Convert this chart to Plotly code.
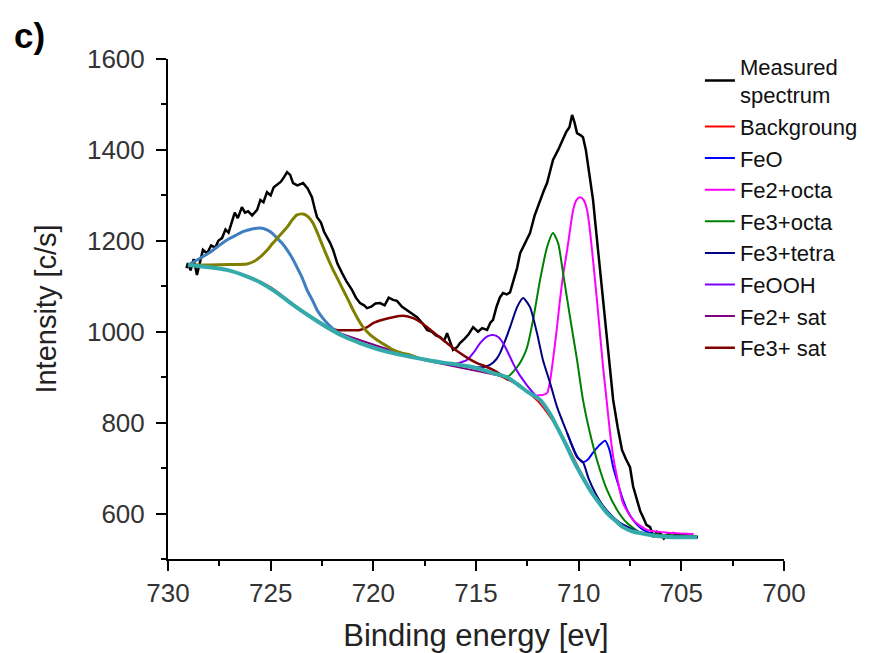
import plotly.graph_objects as go

# ---------------- data ----------------
meas_E = [729.10, 729.03, 728.90, 728.75, 728.59, 728.45, 728.30, 728.10, 727.90, 727.70,
          727.55, 727.37, 727.20, 727.05, 726.88, 726.75, 726.60, 726.40, 726.25, 726.10,
          725.90, 725.66, 725.50, 725.35, 725.18, 725.00, 724.85, 724.69, 724.50, 724.35,
          724.20, 724.05, 723.91, 723.70, 723.42, 723.20, 722.99, 722.85, 722.74, 722.55,
          722.40, 722.26, 722.10, 721.96, 721.75, 721.52, 721.30, 721.04, 720.85, 720.65,
          720.45, 720.31, 720.10, 719.90, 719.67, 719.45, 719.25, 719.04, 718.85, 718.60,
          718.36, 718.10, 717.87, 717.60, 717.38, 717.15, 716.95, 716.75, 716.55, 716.41,
          716.25, 716.12, 715.92, 715.78, 715.55, 715.35, 715.14, 714.90, 714.70, 714.46,
          714.30, 714.17, 714.00, 713.83, 713.68, 713.50, 713.34, 713.20, 713.00, 712.85,
          712.60, 712.37, 712.15, 711.88, 711.70, 711.54, 711.40, 711.25, 711.00, 710.76,
          710.60, 710.45, 710.32, 710.20, 710.08, 709.90, 709.79, 709.65, 709.54, 709.42,
          709.30, 709.18, 709.06, 708.95, 708.81, 708.70, 708.57, 708.45, 708.32, 708.10,
          707.89, 707.70, 707.50, 707.35, 707.16, 707.00, 706.86, 706.70, 706.52, 706.35,
          706.20, 706.04, 705.85, 705.65, 705.40, 705.10, 704.85, 704.55, 704.23]
meas_I = [1140, 1151, 1135, 1160, 1125, 1150, 1180, 1172, 1190, 1185,
          1200, 1206, 1225, 1218, 1241, 1262, 1250, 1274, 1262, 1265,
          1256, 1268, 1290, 1285, 1307, 1300, 1318, 1323, 1330, 1340,
          1351, 1345, 1327, 1322, 1327, 1315, 1296, 1270, 1252, 1240,
          1220, 1208, 1195, 1180, 1150, 1129, 1110, 1092, 1075, 1063,
          1058, 1052, 1055, 1062, 1063, 1058, 1075, 1070, 1068, 1055,
          1048, 1040, 1032, 1018, 1004, 1000, 992, 988, 980, 997,
          975, 960, 966, 975, 985, 995, 1010, 1000, 1008, 1004,
          1020, 1026, 1055, 1076, 1085, 1082, 1087, 1107, 1140, 1173,
          1195, 1217, 1255, 1290, 1310, 1327, 1350, 1378, 1400, 1422,
          1440, 1450, 1477, 1460, 1437, 1432, 1428, 1400, 1362, 1330,
          1290, 1235, 1180, 1125, 1070, 1015, 960, 905, 850, 790,
          740, 720, 702, 660, 630, 605, 592, 575, 570, 548,
          560, 557, 545, 555, 557, 552, 555, 550, 548]

bg_E = [729.0, 728.0, 727.0, 726.0, 725.0, 724.0, 723.0, 722.0, 721.0, 720.0,
        719.0, 718.0, 717.0, 716.0, 715.0, 714.5, 714.0, 713.5, 713.0, 712.5,
        712.0, 711.5, 711.0, 710.5, 710.0, 709.5, 709.0, 708.5, 708.0, 707.5,
        707.0, 706.0, 705.0, 704.2]
bg_I = [1147, 1142, 1134, 1120, 1098, 1064, 1030, 1002, 982, 966,
        953, 943, 935, 929, 920, 913, 905, 896, 884, 868,
        848, 820, 786, 745, 700, 657, 623, 598, 578, 565,
        557, 550, 548, 547]

feo_E = [710.56, 710.3, 710.05, 709.8, 709.55, 709.3, 709.0, 708.71, 708.5, 708.32,
         708.1, 707.84, 707.6, 707.35, 707.1, 706.86, 706.5, 706.0, 705.0, 704.2]
feo_I = [777, 748, 724, 713, 719, 734, 750, 760, 740, 702,
         668, 630, 604, 586, 573, 564, 557, 551, 549, 548]

fe2oct_E = [712.5, 712.22, 711.9, 711.54, 711.4, 711.25, 711.08, 710.91, 710.74, 710.56,
            710.4, 710.27, 710.1, 709.93, 709.76, 709.59, 709.47, 709.35, 709.23, 709.11,
            708.96, 708.81, 708.64, 708.47, 708.3, 708.13, 707.84, 707.35, 706.67, 705.4,
            704.4]
fe2oct_I = [870, 861, 860, 865, 890, 938, 1000, 1070, 1130, 1180,
            1230, 1268, 1290, 1296, 1290, 1268, 1230, 1180, 1125, 1070,
            995, 922, 850, 777, 720, 680, 623, 586, 564, 557,
            555]

fe3oct_E = [714.0, 713.49, 713.0, 712.75, 712.51, 712.22, 711.88, 711.54, 711.25, 711.0,
            710.76, 710.42, 710.08, 709.79, 709.45, 709.11, 708.62, 708.13, 707.64, 707.01,
            706.0, 705.0, 704.2]
fe3oct_I = [905, 900, 922, 940, 966, 1026, 1114, 1186, 1217, 1195,
            1129, 1032, 938, 850, 777, 718, 652, 608, 579, 559,
            553, 551, 550]

fe3tet_E = [715.5, 715.14, 714.7, 714.32, 714.0, 713.83, 713.6, 713.34, 713.0, 712.71,
            712.37, 712.03, 711.74, 711.39, 711.05, 710.56, 710.08, 709.79, 709.5, 709.0,
            708.5, 708.0, 707.0, 706.0, 704.2]
fe3tet_I = [924, 922, 922, 927, 940, 953, 978, 1010, 1054, 1074,
            1054, 997, 938, 887, 834, 777, 724, 713, 675, 630,
            600, 580, 558, 551, 548]

feooh_E = [716.0, 715.43, 715.1, 714.8, 714.45, 714.17, 713.9, 713.68, 713.45, 713.2,
           712.95, 712.71, 712.45, 712.22, 711.9, 711.6]
feooh_I = [929, 938, 955, 975, 990, 993, 988, 975, 955, 931,
           910, 894, 878, 866, 850, 830]

fe2sat_E = [722.0, 718.0, 714.0]
fe2sat_I = [1002, 943, 905]

fe3sat_E = [722.6, 722.3, 721.8, 721.2, 720.65, 720.3, 720.01, 719.5, 719.04, 718.55,
            718.06, 717.7, 717.38, 717.0, 716.6, 716.2, 715.78, 715.4, 714.95, 714.55,
            714.17, 713.8, 713.4]
fe3sat_I = [1021, 1010, 1004, 1003, 1004, 1010, 1019, 1027, 1032, 1035,
            1030, 1021, 1010, 996, 982, 967, 953, 942, 931, 924,
            916, 906, 893]

p12a_E = [729.0, 728.5, 727.95, 727.5, 727.13, 726.7, 726.35, 725.9, 725.52, 725.18,
          724.9, 724.69, 724.45, 724.2, 723.95, 723.72, 723.45, 723.23, 722.95, 722.74,
          722.5, 722.26, 722.0, 721.77, 721.5]
p12a_I = [1147, 1160, 1175, 1190, 1202, 1212, 1220, 1226, 1228, 1224,
          1216, 1206, 1195, 1180, 1162, 1142, 1117, 1092, 1068, 1048,
          1032, 1019, 1008, 1000, 993]

p12b_E = [729.0, 728.0, 727.0, 726.15, 725.8, 725.52, 725.2, 724.89, 724.55, 724.2,
          723.95, 723.72, 723.42, 723.18, 722.94, 722.7, 722.45, 722.2, 721.96, 721.7,
          721.47, 721.2, 720.99, 720.75, 720.5, 720.15, 719.82, 719.4, 719.04, 718.6,
          718.21, 717.8]
p12b_I = [1147, 1147, 1148, 1149, 1155, 1164, 1178, 1195, 1212, 1230,
          1246, 1257, 1259, 1253, 1239, 1215, 1187, 1160, 1136, 1113,
          1092, 1068, 1048, 1028, 1010, 993, 982, 970, 960, 953,
          949, 942]

env_E = [729.03, 728.0, 727.13, 726.3, 725.52, 724.7, 723.91, 723.1, 722.26, 721.5,
         720.65, 719.8, 719.04, 718.2, 717.38, 716.6, 715.78, 715.14, 714.5, 714.17,
         713.49, 713.0, 712.5, 711.88, 711.4, 711.05, 710.6, 710.27, 709.85, 709.45,
         709.0, 708.62, 708.2, 707.84, 707.4, 707.01, 706.3, 705.4, 704.23]
env_I = [1147, 1142, 1136, 1124, 1109, 1086, 1059, 1034, 1010, 991,
         975, 962, 953, 945, 938, 932, 927, 922, 914, 909,
         900, 885, 868, 850, 820, 790, 750, 718, 683, 652,
         623, 601, 584, 570, 561, 557, 551, 548, 548]

# ---------------- figure ----------------
FONT = "Arial, Liberation Sans, sans-serif"
fig = go.Figure()


def add(x, y, name, color, width=2, legend=True, shape="spline"):
    fig.add_trace(go.Scatter(x=x, y=y, mode="lines", name=name, showlegend=legend,
                             line=dict(color=color, width=width, shape=shape,
                                       smoothing=0.6 if shape == "spline" else None)))


add(meas_E, meas_I, "Measured<br>spectrum", "#000000", 2.5, shape="linear")
add(bg_E, bg_I, "Backgroung", "#FF0000", 2)
add(feo_E, feo_I, "FeO", "#0000FF", 2)
add(fe2oct_E, fe2oct_I, "Fe2+octa", "#FF00FF", 2)
add(fe3oct_E, fe3oct_I, "Fe3+octa", "#008000", 2)
add(fe3tet_E, fe3tet_I, "Fe3+tetra", "#000080", 2)
add(feooh_E, feooh_I, "FeOOH", "#8000FF", 2)
add(fe2sat_E, fe2sat_I, "Fe2+ sat", "#800080", 2)
add(fe3sat_E, fe3sat_I, "Fe3+ sat", "#800000", 2.5)
add(p12a_E, p12a_I, "Fe 2p1/2 a", "#3F7FBF", 3, legend=False)
add(p12b_E, p12b_I, "Fe 2p1/2 b", "#808000", 3, legend=False)
add(env_E, env_I, "baseline", "#35AAAA", 4, legend=False)

fig.update_layout(
    width=883, height=653,
    margin=dict(l=168, r=99, t=59, b=94, autoexpand=False),
    paper_bgcolor="white", plot_bgcolor="white",
    font=dict(family=FONT, color="#000000"),
    showlegend=True,
    legend=dict(x=0.8635, y=1.027, xanchor="left", yanchor="top",
                bgcolor="rgba(0,0,0,0)", font=dict(size=22, color="#111111"),
                tracegroupgap=0, itemwidth=30),
    annotations=[dict(text="<b>c)</b>", x=-0.225, y=1.046, xref="paper", yref="paper",
                      xanchor="center", yanchor="middle", showarrow=False,
                      font=dict(size=35, family=FONT, color="#000000"))],
)

fig.update_xaxes(
    automargin=False,
    range=[730, 700], tick0=700, dtick=5, showgrid=False, zeroline=False,
    showline=True, linecolor="#000000", linewidth=2,
    ticks="outside", ticklen=10, tickwidth=2, tickcolor="#000000",
    minor=dict(ticks="outside", ticklen=5, tickwidth=2, tickcolor="#000000", dtick=2.5, showgrid=False),
    tickfont=dict(size=26, color="#333333", family=FONT),
    title=dict(text="Binding energy [ev]", font=dict(size=31, color="#222222", family=FONT), standoff=19),
)
fig.update_yaxes(
    automargin=False,
    range=[500, 1600], tick0=600, dtick=200, showgrid=False, zeroline=False,
    showline=True, linecolor="#000000", linewidth=2,
    ticks="outside", ticklen=10, tickwidth=2, tickcolor="#000000",
    minor=dict(ticks="outside", ticklen=5, tickwidth=2, tickcolor="#000000", dtick=100, showgrid=False),
    tickfont=dict(size=26, color="#333333", family=FONT),
    ticklabelstandoff=6,
    title=dict(text="Intensity [c/s]", font=dict(size=29, color="#222222", family=FONT), standoff=22),
)

fig.write_html("out.html", config={"displayModeBar": False},
               post_script="document.body.style.margin='0px';")
